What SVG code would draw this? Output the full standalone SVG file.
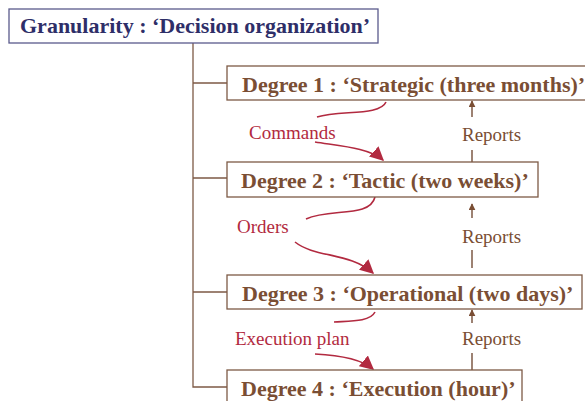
<svg xmlns="http://www.w3.org/2000/svg" width="585" height="401" viewBox="0 0 585 401">
<defs>
<style>
.box{fill:#fff;stroke:#7d5a45;stroke-width:1.3}
.deg{font-family:"Liberation Serif",serif;font-weight:bold;font-size:22px;fill:#7a4e34}
.title{font-family:"Liberation Serif",serif;font-weight:bold;font-size:22px;fill:#2e2e68}
.lbl{font-family:"Liberation Serif",serif;font-size:19px}
.red{fill:#b22a40}
.brn{fill:#7a4e34}
.tree{fill:none;stroke:#7d5a45;stroke-width:1.3}
.rep{fill:none;stroke:#7d5a45;stroke-width:1.5}
.cmd{fill:none;stroke:#b22a40;stroke-width:1.6}
</style>
<marker id="ah" viewBox="0 0 10 10" refX="9" refY="5" markerWidth="7" markerHeight="7" orient="auto" markerUnits="userSpaceOnUse"><path d="M0,0 L10,5 L0,10 z" fill="#7a4e34"/></marker>
<marker id="rh" viewBox="0 0 10 10" refX="9" refY="5" markerWidth="14" markerHeight="14" orient="auto" markerUnits="userSpaceOnUse"><path d="M0,0 L10,5 L0,10 z" fill="#b22a40"/></marker>
</defs>
<g id="connectors">
<path class="tree" d="M193,43 V387 H227 M193,83 H227 M193,178 H227 M193,292 H227"/>
<path class="rep" d="M472,162 V150 M472,117 V101" marker-end="url(#ah)"/>
<path class="rep" d="M472,268 V250 M472,218 V204" marker-end="url(#ah)"/>
<path class="rep" d="M472,370 V353 M472,323 V310" marker-end="url(#ah)"/>
<path class="cmd" d="M386,102 C380,116 340,110 317,117"/>
<path class="cmd" d="M315,142 C340,146 370,148 383,160" marker-end="url(#rh)"/>
<path class="cmd" d="M375,197 C370,218 330,208 306,219"/>
<path class="cmd" d="M295,242 C315,258 350,252 373,273" marker-end="url(#rh)"/>
<path class="cmd" d="M375,312 C370,322 350,321 334,322"/>
<path class="cmd" d="M315,354 C335,355 360,358 373,369" marker-end="url(#rh)"/>
<text class="lbl red" x="249" y="139">Commands</text>
<text class="lbl brn" x="462" y="141">Reports</text>
<text class="lbl red" x="237" y="233">Orders</text>
<text class="lbl brn" x="462" y="243">Reports</text>
<text class="lbl red" x="235" y="345">Execution plan</text>
<text class="lbl brn" x="462" y="345">Reports</text>
</g>
<g id="title">
<rect x="9" y="9" width="369" height="34" fill="#fff" stroke="#5a5a8c" stroke-width="1.3"/>
<text class="title" x="20" y="33">Granularity : ‘Decision organization’</text>
</g>
<g id="degree1">
<rect class="box" x="227" y="66" width="362" height="34"/>
<text class="deg" x="242" y="92">Degree 1 : ‘Strategic (three months)’</text>
</g>
<g id="degree2">
<rect class="box" x="227" y="162" width="311" height="35"/>
<text class="deg" x="241" y="188">Degree 2 : ‘Tactic (two weeks)’</text>
</g>
<g id="degree3">
<rect class="box" x="227" y="275" width="355" height="34"/>
<text class="deg" x="242" y="301">Degree 3 : ‘Operational (two days)’</text>
</g>
<g id="degree4">
<rect class="box" x="227" y="370" width="295" height="40"/>
<text class="deg" x="241" y="396">Degree 4 : ‘Execution (hour)’</text>
</g>
</svg>
